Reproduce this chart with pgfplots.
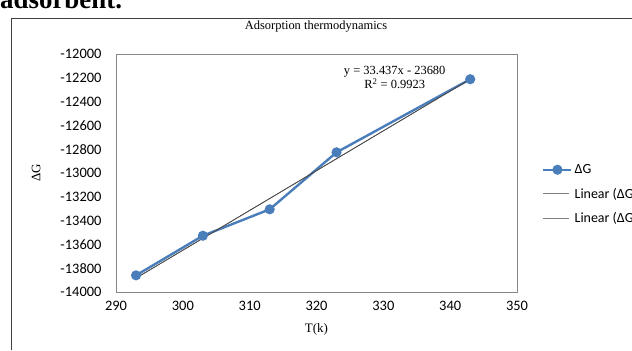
\documentclass[border=0pt]{standalone}
\usepackage{pgfplots}
\pgfplotsset{compat=1.18}
\usepackage{fontspec}
\setmainfont{Liberation Serif}
\newfontfamily\calibri{Carlito}
\definecolor{xlblue}{HTML}{4A7EBB}
\definecolor{axgray}{HTML}{868686}
\begin{document}
\begin{tikzpicture}[x=1bp,y=1bp]
\useasboundingbox (0,0) rectangle (632,-350);
% cut-off text of the page above
\node[anchor=base west,inner sep=0pt,font=\fontsize{27}{30}\selectfont\bfseries] at (0,-8) {adsorbent.};
% outer chart frame
\draw[black!75,line width=0.8bp] (11,-350) -- (11,-18) -- (640,-18);
% title
\node[font=\fontsize{12.5}{14}\selectfont] at (316,-27) {Adsorption thermodynamics};
\begin{axis}[
  at={(116bp,-292bp)}, anchor=south west,
  scale only axis, width=401bp, height=238bp,
  xmin=290, xmax=350, ymin=-14000, ymax=-12000,
  xtick={290,300,...,350}, ytick={-14000,-13800,...,-12000},
  scaled y ticks=false, scaled x ticks=false,
  major tick length=0pt,
  axis line style={axgray,line width=0.8bp},
  tick label style={font=\calibri\fontsize{14.5}{16}\selectfont},
  /pgf/number format/assume math mode=true,
  /pgf/number format/set thousands separator={},
  yticklabel style={xshift=-11bp},
  xticklabel style={yshift=-6bp},
  xlabel={T(k)}, ylabel={ΔG},
  label style={font=\fontsize{13}{15}\selectfont},
  xlabel style={at={(0.5,0)},anchor=north,yshift=-28bp},
  ylabel style={at={(0,0.5)},anchor=south,yshift=72bp},
  legend style={at={(1.055,0.41)},anchor=west,draw=none,fill=none,
    font=\calibri\fontsize{14}{15}\selectfont,row sep=9bp,
    /tikz/every even column/.append style={column sep=1bp}},
  legend cell align=left,
  clip=false,
]
\addplot[xlblue,line width=2.4bp,mark=*,mark size=3.8bp,mark options={fill=xlblue,draw=xlblue},
  legend image code/.code={\draw[mark repeat=2,mark phase=2] plot coordinates {(0bp,0bp) (14bp,0bp) (28bp,0bp)};}] coordinates {
(293,-13860) (303,-13527) (313,-13305) (323,-12826) (343,-12212)};
\addlegendentry{ΔG}
\addplot[black!70,line width=0.7bp,forget plot] coordinates {(293,-13882.96) (343,-12211.11)};
\addplot[black!70,line width=0.7bp,
  legend image code/.code={\draw[black!50,line width=0.9bp] (0bp,0bp) -- (26bp,0bp);}] coordinates {(293,-13882.96) (343,-12211.11)};
\addlegendentry{Linear (ΔG)}
\addlegendimage{legend image code/.code={\draw[black!50,line width=0.9bp] (0bp,0bp) -- (26bp,0bp);}}
\addlegendentry{Linear (ΔG)}
\node[align=center,font=\fontsize{12.5}{13.5}\selectfont] at (axis cs:331.7,-12198) {y = 33.437x - 23680\\R\textsuperscript{2} = 0.9923};
\end{axis}
\end{tikzpicture}
\end{document}
